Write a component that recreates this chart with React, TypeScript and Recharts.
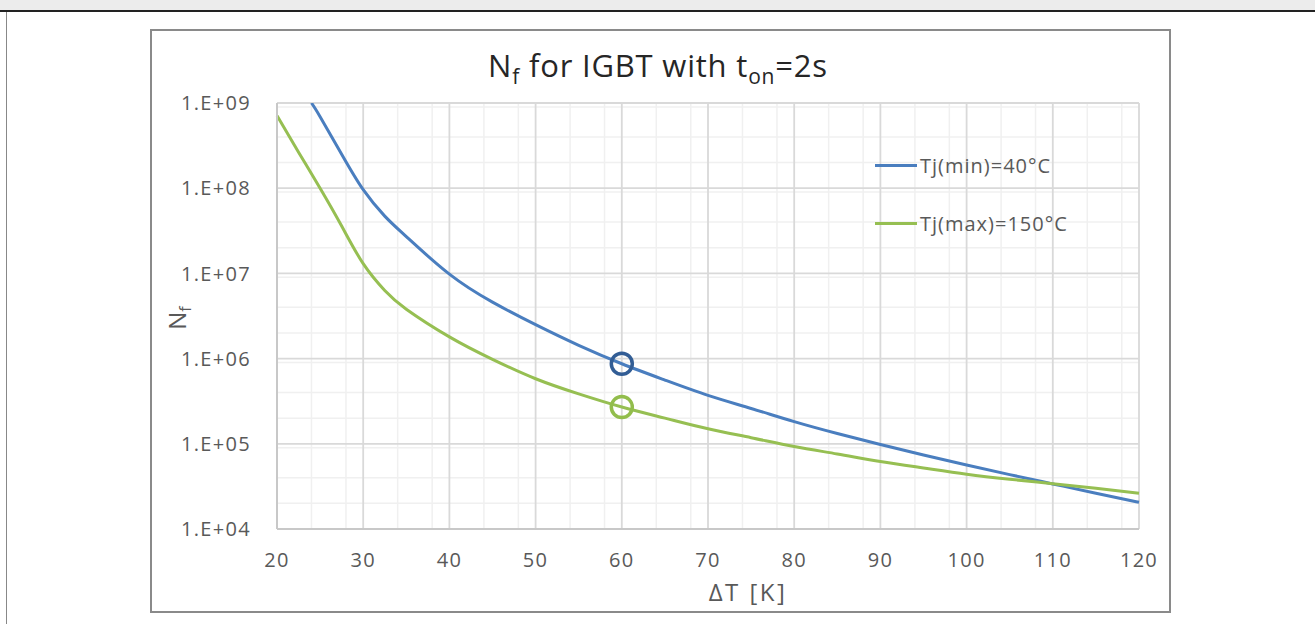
import React from "react";
import {
  LineChart, Line, XAxis, YAxis, CartesianGrid, ReferenceDot,
} from "recharts";

// ΔT [K] sample points
const dT = [20, 22.5, 24, 25, 27.5, 30, 32.5, 35, 40, 45, 50, 55, 60, 65, 70, 75, 80, 85, 90, 95, 100, 105, 110, 115, 120];
// Nf for Tj(min)=40°C
const tjMin = [null, null, 1.0e9, 6.9e8, 2.5e8, 9.6e7, 4.7e7, 2.7e7, 9.8e6, 4.6e6, 2.5e6, 1.43e6, 8.7e5, 5.6e5, 3.7e5, 2.6e5, 1.82e5, 1.32e5, 9.8e4, 7.4e4, 5.65e4, 4.35e4, 3.38e4, 2.63e4, 2.06e4];
// Nf for Tj(max)=150°C
const tjMax = [7.1e8, 2.65e8, null, 1.0e8, 3.6e7, 1.3e7, 6.3e6, 3.8e6, 1.8e6, 9.8e5, 5.8e5, 3.85e5, 2.7e5, 2.0e5, 1.5e5, 1.18e5, 9.3e4, 7.6e4, 6.2e4, 5.2e4, 4.4e4, 3.84e4, 3.4e4, 3.0e4, 2.63e4];

const seriesNames = ["Tj(min)=40°C", "Tj(max)=150°C"];
const seriesKeys = ["tjMin", "tjMax"];
const seriesColors = ["#4a7ebf", "#96bf52"];

// highlighted operating points at ΔT = 60 K
const markerX = [60, 60];
const markerY = [8.7e5, 2.7e5];
const markerColors = ["#325d95", "#92bd4c"];

const xTicks = [20, 30, 40, 50, 60, 70, 80, 90, 100, 110, 120];
const yTicks = [1e4, 1e5, 1e6, 1e7, 1e8, 1e9];

const data = dT.map((x, i) => ({ dT: x, tjMin: tjMin[i], tjMax: tjMax[i] }));

const xMinor: number[] = [];
for (let v = 20; v <= 120; v += 2) if (v % 10 !== 0) xMinor.push(v);
const yMinor: number[] = [];
for (let e = 4; e < 9; e++) for (let m = 2; m <= 9; m++) yMinor.push(m * Math.pow(10, e));

const font = "'Open Sans', sans-serif";
const tickStyle = { fill: "#595959", fontSize: 20, fontFamily: font, letterSpacing: 1.3 };

const fmtExp = (v: number) => {
  const e = Math.round(Math.log10(v));
  return "1.E+" + String(e).padStart(2, "0");
};

export default function App() {
  return (
    <div style={{ position: "relative", width: 1315, height: 624, background: "#fff", overflow: "hidden" }}>
      <style>{"body{margin:0}"}</style>
      <div style={{ position: "absolute", left: 0, top: 0, width: 1315, height: 10, background: "#ececec", borderBottom: "2px solid #222" }} />
      <div style={{ position: "absolute", left: 6, top: 12, width: 1, height: 612, background: "#888" }} />
      <div style={{ position: "absolute", left: 150, top: 29, width: 1021, height: 584, border: "2px solid #8a8a8a", boxSizing: "border-box" }} />

      <div style={{ position: "absolute", left: 151, top: 30 }}>
        <LineChart width={1018} height={581} data={data} margin={{ top: 73, right: 30, left: 0, bottom: 0 }}>
          <CartesianGrid stroke="#f0f0f0" strokeWidth={1.5} horizontalValues={yMinor} verticalValues={xMinor} />
          <CartesianGrid stroke="#d9d9d9" strokeWidth={1.8} />
          <XAxis
            dataKey="dT" type="number" domain={[20, 120]} ticks={xTicks} height={82}
            axisLine={{ stroke: "#c8c8c8", strokeWidth: 2 }} tickLine={false} tickSize={0} tickMargin={24}
            tick={tickStyle}
          />
          <YAxis
            scale="log" type="number" domain={[1e4, 1e9]} ticks={yTicks} allowDataOverflow width={126}
            axisLine={{ stroke: "#c8c8c8", strokeWidth: 2 }} tickLine={false} tickSize={0} tickMargin={26}
            tick={tickStyle} tickFormatter={fmtExp}
          />
          {seriesKeys.map((k, i) => (
            <Line key={k} dataKey={k} name={seriesNames[i]} type="natural" stroke={seriesColors[i]}
              strokeWidth={3} dot={false} connectNulls isAnimationActive={false} />
          ))}
          {markerX.map((x, i) => (
            <ReferenceDot key={i} x={x} y={markerY[i]} r={10.5} fill="none"
              stroke={markerColors[i]} strokeWidth={3.5} />
          ))}
        </LineChart>
      </div>

      <div style={{ position: "absolute", left: 875, top: 150, fontFamily: font, fontSize: 20, color: "#595959", letterSpacing: 1 }}>
        {seriesNames.map((name, i) => (
          <div key={name} style={{ display: "flex", alignItems: "center", height: 30, marginBottom: i === 0 ? 28 : 0 }}>
            <span style={{ display: "inline-block", width: 42, height: 3, background: seriesColors[i], marginRight: 3 }} />
            <span>{name}</span>
          </div>
        ))}
      </div>

      <div style={{ position: "absolute", left: 358, width: 600, top: 44, textAlign: "center", fontFamily: font, fontSize: 31, color: "#262626", letterSpacing: 0.8 }}>
        N<sub style={{ fontSize: 21 }}>f</sub> for IGBT with t<sub style={{ fontSize: 21 }}>on</sub>=2s
      </div>
      <div style={{ position: "absolute", left: 178, top: 318, transform: "translate(-50%,-50%) rotate(-90deg)", fontFamily: font, fontSize: 24, color: "#595959", whiteSpace: "nowrap" }}>
        N<sub style={{ fontSize: 16 }}>f</sub>
      </div>
      <div style={{ position: "absolute", left: 648, width: 200, top: 575, textAlign: "center", fontFamily: font, fontSize: 24, color: "#595959", letterSpacing: 2.5 }}>
        ΔT [K]
      </div>
    </div>
  );
}
